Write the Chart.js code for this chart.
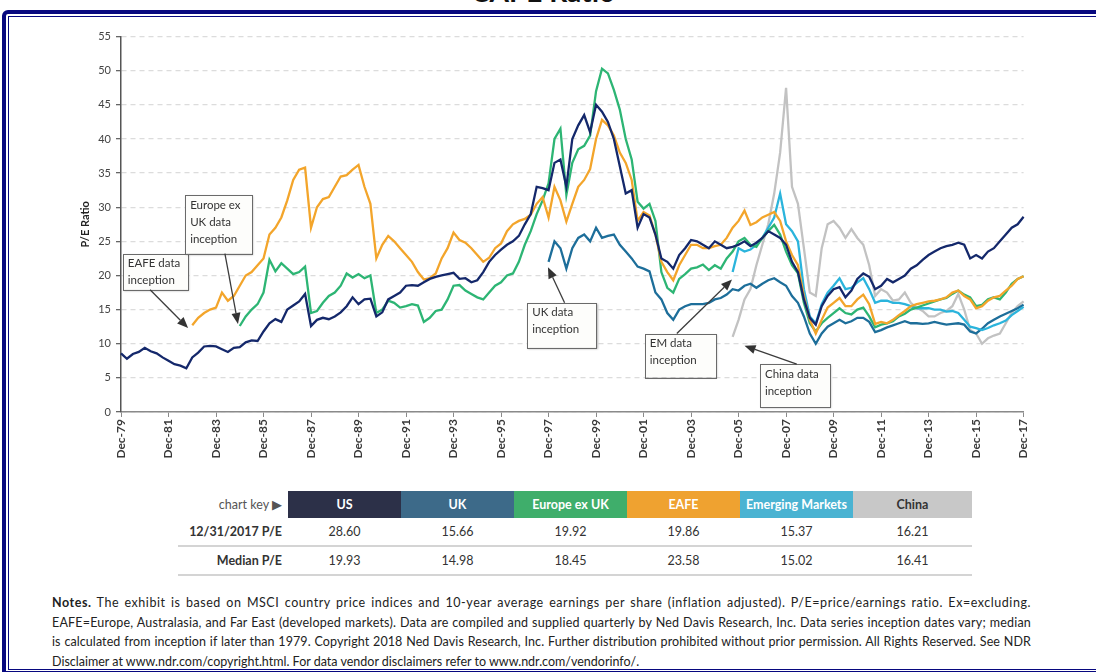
<!DOCTYPE html>
<html>
<head>
<meta charset="utf-8">
<script src="https://cdn.jsdelivr.net/npm/chart.js@4.4.1/dist/chart.umd.min.js"></script>
<style>
  body { margin: 0; width: 1096px; height: 672px; overflow: hidden; background: #fff; position: relative; font-family: Lato, "Open Sans", sans-serif; }
  #title { position: absolute; left: 0; width: 1086px; top: -26px; text-align: center; font: bold 28px Lato, sans-serif; color: #111; }
  #frame { position: absolute; left: 2px; top: 10px; width: 1200px; height: 657px; border: 4px solid #07087f; border-top-left-radius: 6px; }
  #frame2 { position: absolute; left: 2px; top: 2px; right: 2px; bottom: 1px; border: 1.5px solid #07087f; }
  #wrap { position: absolute; left: 40px; top: 25px; width: 1000px; height: 450px; }
  #key { position: absolute; left: 178px; top: 491px; border-collapse: collapse; color: #333; }
  #key td { padding: 0; height: 27px; text-align: center; font-size: 12.5px; }
  #key td.lab { width: 104px; text-align: right; padding-right: 6px; font-weight: bold; }
  #key tr.hd td { font-weight: bold; color: #fff; }
  #key tr.hd td.lab { color: #555; font-weight: normal; }
  #key tr.val td { border-bottom: 2px solid #d4d4d4; }
  #notes { position: absolute; left: 52px; top: 593px; width: 979px; font-size: 12.5px; line-height: 19.7px; color: #222; }
  #notes div { white-space: nowrap; }
  #notes div.j { text-align: justify; text-align-last: justify; white-space: normal; }
</style>
</head>
<body>
<div id="title">CAPE Ratio</div>
<div id="frame"><div id="frame2"></div></div>
<div id="wrap"><canvas id="cape"></canvas></div>
<table id="key"></table>
<div id="notes">
  <div class="j" style="letter-spacing:0.55px"><b>Notes.</b> The exhibit is based on MSCI country price indices and 10-year average earnings per share (inflation adjusted). P/E=price/earnings ratio. Ex=excluding.</div>
  <div class="j" style="letter-spacing:0.2px">EAFE=Europe, Australasia, and Far East (developed markets). Data are compiled and supplied quarterly by Ned Davis Research, Inc. Data series inception dates vary; median</div>
  <div class="j" style="letter-spacing:0.08px">is calculated from inception if later than 1979. Copyright 2018 Ned Davis Research, Inc. Further distribution prohibited without prior permission. All Rights Reserved. See NDR</div>
  <div>Disclaimer at www.ndr.com/copyright.html. For data vendor disclaimers refer to www.ndr.com/vendorinfo/.</div>
</div>
<script>
// quarterly, Dec-79 .. Dec-17
var months = ["Mar", "Jun", "Sep", "Dec"];
var firstYear = 1979, lastYear = 2017;

var seriesNames = ["US", "UK", "Europe ex UK", "EAFE", "Emerging Markets", "China"];
var lineColors = ["#14286b", "#1d6e9a", "#2db574", "#f3a52b", "#2bb4dc", "#c2c2c2"];
var keyColors = ["#2c3048", "#3d6a89", "#3fae6b", "#efa230", "#4ab3d2", "#c8c8c8"];
var latestPE = ["28.60", "15.66", "19.92", "19.86", "15.37", "16.21"];
var medianPE = ["19.93", "14.98", "18.45", "23.58", "15.02", "16.41"];

var usPE = [
  8.6, 7.8, 8.5, 8.8, 9.4, 8.9, 8.6, 8.0,
  7.5, 7.0, 6.8, 6.4, 8.0, 8.7, 9.6, 9.7,
  9.6, 9.2, 8.8, 9.4, 9.5, 10.2, 10.5, 10.4,
  11.8, 13.0, 13.6, 13.2, 15.0, 15.6, 16.2, 17.3,
  12.6, 13.5, 13.8, 13.6, 14.0, 14.6, 15.5, 16.8,
  15.8, 16.5, 16.6, 14.0, 14.6, 16.5, 17.0, 17.5,
  18.5, 18.6, 18.5, 19.0, 19.5, 19.8, 20.0, 20.2,
  20.4, 19.5, 19.6, 19.0, 19.3, 20.5, 22.0, 23.0,
  23.8, 24.5, 25.0, 25.8, 27.5, 29.0, 33.0, 32.8,
  32.5, 36.5, 37.0, 33.0, 40.0, 42.0, 43.5, 41.0,
  45.0, 44.0, 42.5, 40.0, 36.0, 32.0, 32.5, 27.0,
  29.0, 28.5, 26.0, 22.5, 22.0, 21.0, 23.0, 24.0,
  25.2, 25.0, 24.5, 24.0, 25.0, 24.5, 24.0, 24.2,
  24.5, 25.0, 24.3, 24.8, 25.5, 26.5, 26.0, 25.5,
  24.5, 22.0, 20.5, 16.5, 13.8, 12.8, 15.5, 17.0,
  18.0, 18.3, 16.8, 17.8, 19.5, 20.3, 19.8, 18.0,
  18.5, 19.5, 19.0, 19.5, 20.0, 21.0, 21.5, 22.3,
  23.0, 23.5, 24.0, 24.3, 24.5, 24.8, 24.5, 22.5,
  23.0, 22.5, 23.5, 24.0, 25.0, 26.0, 27.0, 27.5,
  28.6
];

var eafeStart = 12;
var eafePE = [
  12.7, 13.8, 14.5, 15.0,
  15.3, 17.5, 16.3, 17.0, 18.5, 20.0, 20.5, 21.5,
  22.5, 26.0, 27.0, 28.5, 31.0, 34.0, 35.5, 35.8,
  27.0, 30.0, 31.2, 31.5, 33.0, 34.5, 34.7, 35.5,
  36.2, 33.0, 30.5, 22.5, 24.5, 25.8, 25.0, 24.0,
  23.0, 22.0, 20.5, 19.4, 19.6, 20.3, 22.5, 24.0,
  26.3, 25.2, 24.8, 24.0, 23.0, 22.0, 22.6, 24.0,
  24.7, 26.5, 27.5, 28.0, 28.3, 28.9, 30.5, 31.5,
  28.5, 33.0, 31.0, 27.9, 30.5, 33.0, 34.0, 35.6,
  40.0, 42.8, 42.0, 40.5, 38.0, 36.5, 34.0, 28.0,
  29.3, 28.8, 26.0, 22.0, 20.5, 19.3, 21.5, 23.0,
  24.5, 24.5, 24.0, 24.0, 24.3, 24.5, 25.5, 27.0,
  28.0, 29.5, 27.4, 27.8, 28.5, 28.9, 29.3, 28.0,
  25.0, 23.0, 21.5, 17.0, 13.5, 11.5, 13.5, 15.3,
  16.0, 16.7, 15.5, 15.5, 16.5, 17.2, 15.8, 12.9,
  13.2, 13.0, 13.5, 14.2, 14.8, 15.5, 15.8, 16.0,
  16.2, 16.3, 16.5, 16.8, 17.5, 17.8, 17.0, 16.5,
  15.2, 15.5, 16.3, 16.8, 17.0, 17.8, 18.5, 19.5,
  19.9
];

var europeStart = 20;
var europePE = [
  12.6, 14.0, 15.0, 15.8,
  17.5, 22.3, 20.6, 21.8, 21.0, 20.2, 20.5, 21.3,
  14.5, 14.8, 16.0, 17.0, 17.5, 18.5, 20.3, 19.7,
  20.2, 19.6, 20.0, 14.5, 15.0, 16.3, 16.0, 15.3,
  15.5, 15.8, 15.6, 13.2, 13.8, 14.8, 15.0, 16.5,
  18.5, 18.6, 17.8, 17.3, 16.8, 16.5, 17.5, 18.5,
  19.0, 20.0, 20.3, 22.0, 24.5, 26.5, 29.0, 31.0,
  33.5, 40.0, 41.5, 31.8, 36.5, 38.5, 39.0, 40.5,
  47.0, 50.3, 49.6, 47.2, 44.3, 40.0, 37.0, 30.8,
  29.8, 30.5, 28.0, 20.5, 18.2, 17.5, 19.5, 20.2,
  21.0, 21.2, 21.6, 20.8, 21.5, 21.0, 22.5, 23.5,
  25.0, 25.5, 24.5, 24.2, 25.5, 26.5, 27.4, 26.0,
  23.5, 21.5, 20.3, 16.0, 13.0, 11.8, 13.0, 13.8,
  14.5, 15.2, 14.5, 14.3, 15.0, 15.3, 14.0, 12.4,
  12.8, 13.0, 13.3, 14.0, 14.4, 15.0, 15.3, 15.6,
  15.9, 16.2, 16.5, 16.7, 17.3, 17.8, 17.2, 16.8,
  15.5, 15.7, 16.5, 16.8, 16.5, 17.5, 18.8, 19.5,
  19.9
];

var ukStart = 72;
var ukPE = [
  22.0, 25.0, 24.0, 21.0, 24.0, 25.5, 26.0, 25.0,
  27.0, 25.5, 25.8, 26.0, 24.5, 23.5, 22.5, 21.3,
  21.0, 20.6, 17.5, 16.5, 14.5, 13.5, 15.0, 15.5,
  15.8, 15.8, 15.8, 16.0, 16.5, 16.7, 17.2, 18.0,
  17.8, 18.5, 18.8, 18.2, 18.8, 19.3, 19.6, 19.0,
  18.5, 17.0, 16.0, 14.0, 11.5, 10.0, 11.5, 12.5,
  13.0, 13.5, 13.0, 13.3, 13.8, 13.8, 13.2, 11.7,
  12.0, 12.4, 12.7, 13.0, 13.3, 13.0, 13.0, 12.9,
  13.0, 13.2, 13.0, 12.8, 12.9, 13.0, 12.8, 11.8,
  11.5, 12.2, 13.0, 13.5, 14.0, 14.4, 14.8, 15.2,
  15.7
];

var emStart = 103;
var emPE = [
  20.5,
  24.0, 23.5, 23.8, 24.5, 25.5, 27.0, 28.5, 32.0,
  27.5, 26.5, 25.0, 18.0, 14.0, 13.0, 15.8, 17.5,
  18.5, 19.6, 18.0, 18.2, 19.0, 19.6, 18.0, 16.0,
  16.3, 16.3, 16.0, 16.0, 15.8, 15.5, 15.2, 15.2,
  15.2, 15.0, 15.0, 14.7, 14.8, 14.5, 13.5, 12.5,
  12.3, 12.0, 12.3, 12.7, 13.0, 13.4, 14.2, 14.8,
  15.4
];

var chinaStart = 103;
var chinaPE = [
  11.0,
  13.5, 16.5, 18.0, 21.5, 24.5, 27.5, 32.0, 38.0,
  47.5, 33.0, 30.5, 24.0, 17.5, 17.0, 24.0, 27.5,
  28.0, 27.0, 25.5, 26.8, 25.5, 24.5, 21.5, 17.0,
  18.0, 17.5, 16.3, 16.5, 17.5, 16.0, 15.3, 14.8,
  14.0, 14.0, 14.5, 14.8, 15.5, 17.3, 15.0, 12.0,
  11.5, 10.0, 10.8, 11.2, 11.5, 13.0, 14.5, 15.5,
  16.2
];

// callout boxes in data units: [x1, y1, x2, y2] as quarter index / P/E
var callouts = [
  { lines: ["EAFE data", "inception"], box: [0.3, 23.2, 11.3, 17.9], from: [4.9, 17.9], to: [11.3, 12.3] },
  { lines: ["Europe ex", "UK data", "inception"], box: [10.8, 31.8, 22.1, 23.2], from: [17.5, 23.2], to: [19.7, 12.9] },
  { lines: ["UK data", "inception"], box: [68.4, 16, 80.1, 9.4], from: [74.7, 16], to: [71.9, 21.2] },
  { lines: ["EM data", "inception"], box: [88.2, 11.5, 100.2, 5.1], from: [93.6, 11.5], to: [102.9, 19.4] },
  { lines: ["China data", "inception"], box: [107.6, 7, 119.4, 0.7], from: [113.8, 7], to: [105, 9.7] }
];

var labels = ["Dec-" + String(firstYear).slice(2)];
for (var y = firstYear + 1; y <= lastYear; y++) {
  months.forEach(function (m) { labels.push(m + "-" + String(y).slice(2)); });
}

function pad(start, vals) {
  return new Array(start).fill(null).concat(vals);
}

var series = [usPE, pad(ukStart, ukPE), pad(europeStart, europePE), pad(eafeStart, eafePE), pad(emStart, emPE), pad(chinaStart, chinaPE)];
var drawOrder = [0, 3, 2, 4, 1, 5]; // first one ends up on top

// table
var key = document.getElementById("key");
var html = '<tr class="hd"><td class="lab">chart key &#9654;</td>';
seriesNames.forEach(function (n, i) {
  var w = i == 5 ? 119 : 113;
  html += '<td style="width:' + w + 'px;background:' + keyColors[i] + (i == 5 ? ';color:#333' : '') + '">' + n + '</td>';
});
html += '</tr><tr class="val"><td class="lab">12/31/2017 P/E</td>';
latestPE.forEach(function (v) { html += '<td>' + v + '</td>'; });
html += '</tr><tr class="val"><td class="lab">Median P/E</td>';
medianPE.forEach(function (v) { html += '<td>' + v + '</td>'; });
html += '</tr>';
key.innerHTML = html;

var calloutPlugin = {
  id: "callouts",
  afterDatasetsDraw: function (chart) {
    var ctx = chart.ctx, xs = chart.scales.x, ys = chart.scales.y;
    ctx.save();
    callouts.forEach(function (c) {
      var x1 = xs.getPixelForValue(c.box[0]), y1 = ys.getPixelForValue(c.box[1]);
      var x2 = xs.getPixelForValue(c.box[2]), y2 = ys.getPixelForValue(c.box[3]);
      ctx.shadowColor = "rgba(0,0,0,0.3)";
      ctx.shadowBlur = 2;
      ctx.shadowOffsetX = 1;
      ctx.shadowOffsetY = 1;
      ctx.fillStyle = "#fdfdfb";
      ctx.fillRect(x1, y1, x2 - x1, y2 - y1);
      ctx.shadowColor = "transparent";
      ctx.strokeStyle = "#6a6a6a";
      ctx.lineWidth = 1;
      ctx.strokeRect(Math.round(x1) + 0.5, Math.round(y1) + 0.5, Math.round(x2 - x1), Math.round(y2 - y1));
      ctx.fillStyle = "#333";
      ctx.font = "11.5px Lato, sans-serif";
      ctx.textBaseline = "middle";
      c.lines.forEach(function (t, k) {
        ctx.fillText(t, x1 + 5, y1 + 10 + k * 17);
      });
      // arrow
      var fx = xs.getPixelForValue(c.from[0]), fy = ys.getPixelForValue(c.from[1]);
      var tx = xs.getPixelForValue(c.to[0]), ty = ys.getPixelForValue(c.to[1]);
      var a = Math.atan2(ty - fy, tx - fx);
      var hl = 11, hw = 4.5;
      var bx = tx - hl * Math.cos(a), by = ty - hl * Math.sin(a);
      ctx.strokeStyle = "#3c3c3c";
      ctx.lineWidth = 1.3;
      ctx.beginPath();
      ctx.moveTo(fx, fy);
      ctx.lineTo(bx, by);
      ctx.stroke();
      ctx.fillStyle = "#333";
      ctx.beginPath();
      ctx.moveTo(tx, ty);
      ctx.lineTo(bx + hw * Math.sin(a), by - hw * Math.cos(a));
      ctx.lineTo(bx - hw * Math.sin(a), by + hw * Math.cos(a));
      ctx.closePath();
      ctx.fill();
    });
    ctx.restore();
  }
};

new Chart("cape", {
  type: "line",
  data: {
    labels: labels,
    datasets: drawOrder.map(function (i) {
      return {
        label: seriesNames[i],
        data: series[i],
        borderColor: lineColors[i],
        borderWidth: 2.3,
        pointRadius: 0,
        tension: 0,
        spanGaps: false
      };
    })
  },
  options: {
    responsive: true,
    maintainAspectRatio: false,
    animation: false,
    layout: { padding: { top: 8, right: 16, left: 37, bottom: 0 } },
    plugins: { legend: { display: false }, tooltip: { enabled: false } },
    scales: {
      x: {
        afterFit: function (s) { s.height = 63; },
        border: { color: "#8a8a8a", width: 1.5 },
        grid: {
          drawOnChartArea: false,
          tickLength: 5,
          color: function (c) { return c.index % 8 === 0 ? "#8a8a8a" : "transparent"; }
        },
        ticks: {
          autoSkip: false,
          minRotation: 90,
          maxRotation: 90,
          padding: 2,
          color: "#3a3a3a",
          font: { family: "Lato", size: 12, weight: "bold" },
          callback: function (v, i) { return i % 8 === 0 ? this.getLabelForValue(v) : ""; }
        }
      },
      y: {
        min: 0,
        max: 55,
        afterFit: function (s) { s.width = 44; },
        border: { color: "#555", width: 1.5, dash: [5, 4] },
        grid: { color: "#dcdcdc", lineWidth: 1.3, tickLength: 5, tickColor: "#666", tickBorderDash: [] },
        ticks: { stepSize: 5, padding: 5, color: "#444", font: { family: "Lato", size: 11 } },
        title: { display: true, text: "P/E Ratio", color: "#222", padding: 2, font: { family: "Lato", size: 11, weight: "bold" } }
      }
    }
  },
  plugins: [calloutPlugin]
});
</script>
</body>
</html>
